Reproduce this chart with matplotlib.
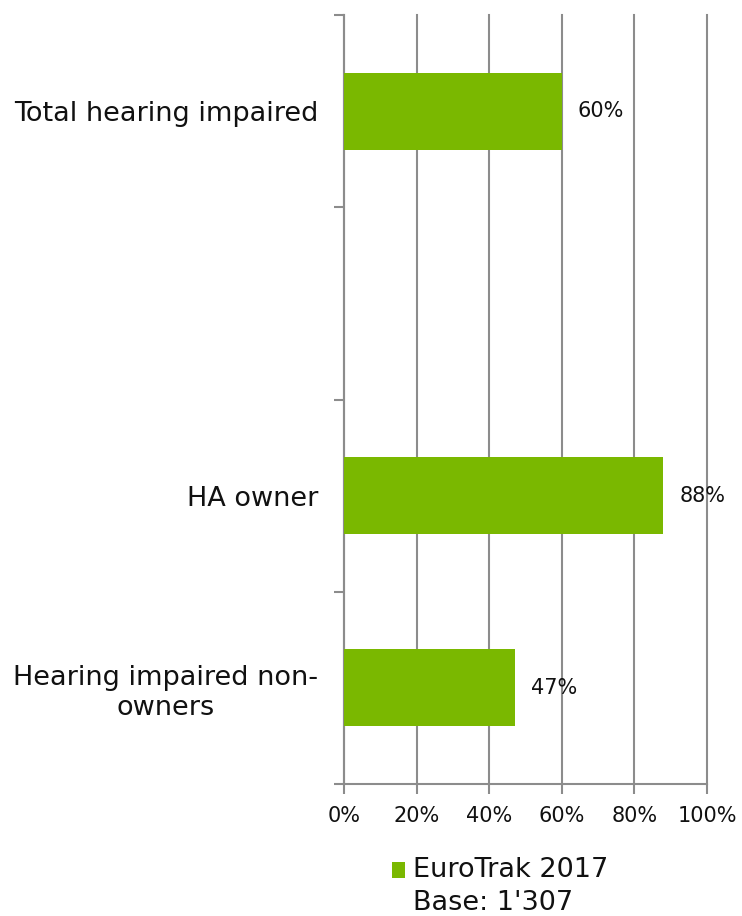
import matplotlib
matplotlib.use("Agg")
import matplotlib.pyplot as plt
from matplotlib.patches import Rectangle
from matplotlib.ticker import FixedLocator, PercentFormatter

categories = ["Total hearing impaired", "", "HA owner", "Hearing impaired non-\nowners"]
values = [60, None, 88, 47]
series_name = "EuroTrak 2017"
base_text = "Base: 1'307"
x_ticks = [0, 20, 40, 60, 80, 100]

green = "#7AB800"
grid_col = "#8C8C8C"
txt = "#111111"

fig = plt.figure(figsize=(7.42, 9.16), dpi=100)
ax = fig.add_axes([344/742, 1-784/916, (707-344)/742, (784-15)/916])

pos = list(range(len(categories)))
for p, v in zip(pos, values):
    if v is None:
        continue
    ax.barh(p, v, height=0.40, color=green, zorder=3)
    ax.text(v + 4.4, p, f"{v}%", va="center", ha="left", fontsize=15, color=txt, zorder=4)

ax.set_xlim(0, 100)
ax.set_ylim(len(categories) - 0.5, -0.5)
ax.set_xticks(x_ticks)
ax.xaxis.set_major_formatter(PercentFormatter(decimals=0))
ax.tick_params(axis="x", length=7, width=1.5, color=grid_col, labelsize=15, pad=9, labelcolor=txt)

ax.set_yticks(pos)
ax.set_yticklabels(categories, fontsize=19.5, color=txt, ha="right", multialignment="center")
ax.yaxis.set_minor_locator(FixedLocator([p - 0.5 for p in pos] + [len(pos) - 0.5]))
ax.tick_params(axis="y", which="major", length=0, pad=18.7)
ax.tick_params(axis="y", which="minor", length=7, width=1.5, color=grid_col)

ax.grid(axis="x", color=grid_col, linewidth=1.5, zorder=0)
for gl in ax.get_xgridlines():
    gl.set_clip_on(False)
for s in ["top", "right"]:
    ax.spines[s].set_visible(False)
for s in ["left", "bottom"]:
    ax.spines[s].set_color(grid_col)
    ax.spines[s].set_linewidth(1.5)

# legend
fig.patches.append(Rectangle((392/742, 1-878/916), 13/742, 16/916, transform=fig.transFigure,
                             facecolor=green, edgecolor="none"))
fig.text(413/742, 1-870/916, series_name, fontsize=19.5, va="center", ha="left", color=txt)
fig.text(413/742, 1-903/916, base_text, fontsize=19.5, va="center", ha="left", color=txt)

fig.savefig("out.png", dpi=100)
